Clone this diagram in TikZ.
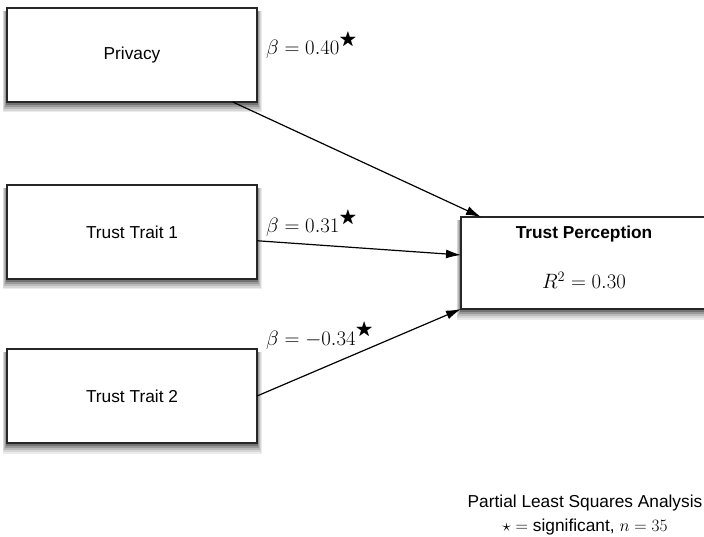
\documentclass[tikz,border=0pt]{standalone}
\usepackage{amssymb}
\usepackage{amsmath}
\usepackage[no-math]{fontspec}
\setsansfont{Liberation Sans}
\usepackage{tikz}
\usetikzlibrary{arrows.meta, calc, positioning}

% significance mark after a coefficient
\newcommand{\sigmark}{^{\raisebox{3pt}{\scalebox{0.85}{$\bigstar$}}}}

\tikzset{
	factor/.style={draw=black!85, line width=1.5pt, fill=white, outer sep=0pt,
		minimum width=250pt, minimum height=94pt, inner sep=0pt},
	effect/.style={-{Latex[length=15pt,width=9pt]}, line width=1.2pt},
	coef/.style={anchor=base west, inner sep=0pt, font=\fontsize{21.5}{24}\selectfont},
}

\begin{document}
\begin{tikzpicture}[x=1pt, y=-1pt, font=\fontsize{17.3}{20}\selectfont]
	\sffamily
	\useasboundingbox (0,0) rectangle (704,537);
	
	% soft shadows, drawn first so the boxes sit on top
	\foreach \cx/\cy/\w/\h in {132/55/250/94, 132/232/250/94, 132/396/250/94, 596/263/270/92}
		\foreach \d/\g in {5/8, 4/16, 3/27, 2/40, 1/55}
			\fill[black!\g] (\cx-\w/2-0.9*\d, \cy-\h/2+3) rectangle (\cx+\w/2+0.9*\d, \cy+\h/2+1.8*\d+1.5);
	
	% predictors on the left
	\node[factor] (privacy) at (132,55) {Privacy};
	\node[factor, below=83pt of privacy] (trait1) {Trust Trait 1};
	\node[factor, below=70pt of trait1] (trait2) {Trust Trait 2};
	
	% outcome, runs off the right edge
	\node[factor, minimum width=270pt, minimum height=92pt, anchor=west] (perception) at (461,263) {};
	\node[anchor=base, inner sep=0pt, font=\fontsize{17.3}{20}\selectfont\bfseries] (ptitle) at (584,239) {Trust Perception};
	\node[anchor=base, inner sep=0pt, font=\fontsize{21.5}{24}\selectfont] (pr2) at (584,289) {$R^2 = 0.30$};
	
	\draw[effect] (privacy.-25) -- (perception.north west -| 481,0);
	\draw[effect] (trait1.-4) -- ($(perception.west)+(0,-8)$);
	\draw[effect] (trait2.east) -- (perception.south west);
	
	\node[coef] (b1) at (266,55) {$\beta = 0.40\sigmark$};
	\node[coef] (b2) at (266,233) {$\beta = 0.31\sigmark$};
	\node[coef] (b3) at (266,345) {$\beta = -0.34\sigmark$};
	
	\node[anchor=north, align=center, inner sep=0pt, font=\fontsize{17.3}{24}\selectfont] (legend) at (585,495)
		{Partial Least Squares Analysis\\$\star =$ significant, $n = 35$};
\end{tikzpicture}
\end{document}
